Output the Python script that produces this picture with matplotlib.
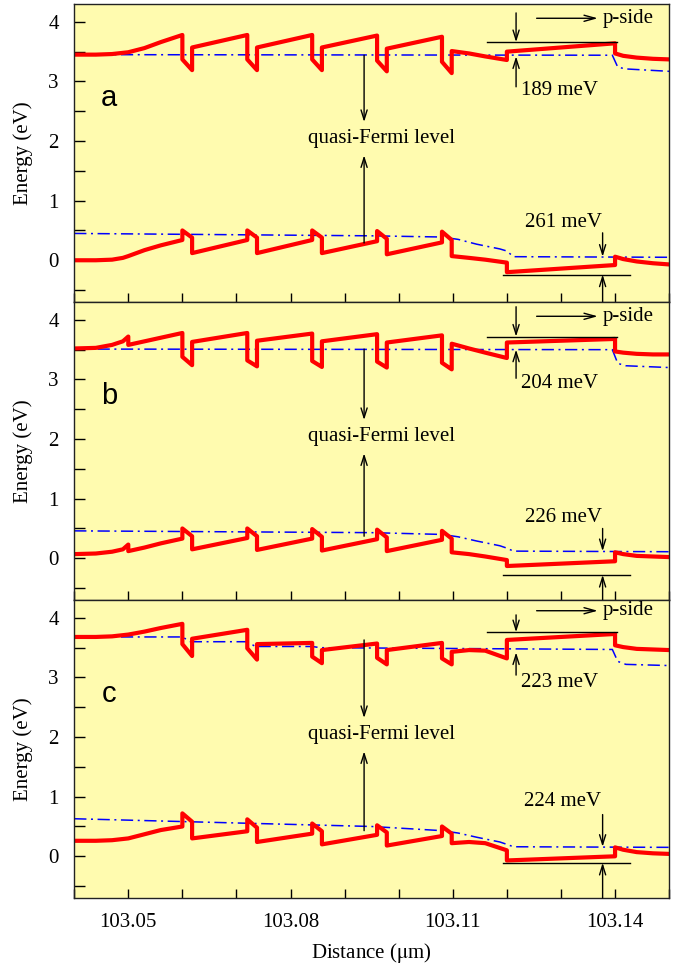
from matplotlib import pyplot as plt
from matplotlib.ticker import MultipleLocator, FixedLocator

# shared x knots (um) of the band edges: n-side, 5 wells, last barrier, EBL, p-side
x_band = [103.0400, 103.0440, 103.0470, 103.0490, 103.0500, 103.0500,
          103.0530, 103.0560, 103.0600, 103.0600, 103.0618, 103.0618,
          103.0720, 103.0720, 103.0738, 103.0738,
          103.0840, 103.0840, 103.0858, 103.0858,
          103.0960, 103.0960, 103.0978, 103.0978,
          103.1080, 103.1080, 103.1098, 103.1098,
          103.1130, 103.1160, 103.1200, 103.1200,
          103.1400, 103.1400, 103.1415, 103.1440, 103.1470, 103.1500]

ec_a = [3.45, 3.45, 3.46, 3.48, 3.49, 3.49,
        3.56, 3.66, 3.78, 3.37, 3.19, 3.57,
        3.78, 3.37, 3.19, 3.57,
        3.78, 3.37, 3.19, 3.57,
        3.77, 3.35, 3.17, 3.55,
        3.75, 3.33, 3.14, 3.51,
        3.47, 3.42, 3.36, 3.50,
        3.64, 3.47, 3.43, 3.40, 3.38, 3.37]
ev_a = [0.00, 0.00, 0.01, 0.04, 0.07, 0.07,
        0.17, 0.25, 0.34, 0.50, 0.38, 0.12,
        0.34, 0.50, 0.38, 0.12,
        0.34, 0.50, 0.38, 0.12,
        0.32, 0.49, 0.36, 0.10,
        0.30, 0.48, 0.34, 0.07,
        0.04, 0.01, -0.04, -0.20,
        -0.08, 0.06, 0.02, -0.02, -0.05, -0.07]

ec_b = [3.52, 3.53, 3.58, 3.64, 3.72, 3.58,
        3.64, 3.70, 3.78, 3.38, 3.24, 3.63,
        3.78, 3.32, 3.22, 3.65,
        3.77, 3.31, 3.21, 3.64,
        3.76, 3.30, 3.20, 3.62,
        3.74, 3.28, 3.17, 3.60,
        3.52, 3.45, 3.36, 3.62,
        3.68, 3.47, 3.45, 3.43, 3.42, 3.42]
ev_b = [0.07, 0.08, 0.11, 0.15, 0.23, 0.12,
        0.18, 0.25, 0.33, 0.50, 0.37, 0.15,
        0.34, 0.50, 0.37, 0.14,
        0.33, 0.49, 0.36, 0.13,
        0.32, 0.48, 0.35, 0.12,
        0.31, 0.46, 0.33, 0.10,
        0.07, 0.03, -0.03, -0.13,
        -0.05, 0.10, 0.07, 0.04, 0.03, 0.02]

ec_c = [3.68, 3.68, 3.69, 3.71, 3.72, 3.72,
        3.77, 3.83, 3.90, 3.56, 3.36, 3.65,
        3.80, 3.49, 3.30, 3.56,
        3.58, 3.35, 3.24, 3.46,
        3.57, 3.33, 3.22, 3.46,
        3.58, 3.32, 3.22, 3.43,
        3.46, 3.45, 3.32, 3.63,
        3.73, 3.54, 3.51, 3.48, 3.47, 3.46]
ev_c = [0.26, 0.26, 0.27, 0.29, 0.30, 0.30,
        0.37, 0.44, 0.50, 0.72, 0.58, 0.30,
        0.42, 0.62, 0.48, 0.24,
        0.38, 0.55, 0.42, 0.20,
        0.36, 0.52, 0.40, 0.18,
        0.34, 0.50, 0.38, 0.22,
        0.24, 0.22, 0.10, -0.07,
        0.00, 0.15, 0.11, 0.07, 0.05, 0.04]

# quasi-Fermi levels
x_fn_ab = [103.040, 103.1395, 103.1405, 103.1420, 103.150]
efn_a = [3.45, 3.44, 3.24, 3.21, 3.17]
efn_b = [3.51, 3.50, 3.27, 3.23, 3.20]
x_fn_c = [103.040, 103.060, 103.0615, 103.072, 103.0735, 103.084, 103.0855,
          103.1395, 103.1405, 103.1420, 103.150]
efn_c = [3.68, 3.68, 3.60, 3.60, 3.52, 3.52, 3.50, 3.47, 3.27, 3.22, 3.20]

x_fp = [103.040, 103.095, 103.108, 103.111, 103.1144, 103.1187, 103.1200,
        103.1212, 103.150]
efp_a = [0.45, 0.41, 0.39, 0.35, 0.27, 0.19, 0.155, 0.06, 0.05]
efp_b = [0.46, 0.43, 0.40, 0.36, 0.29, 0.21, 0.17, 0.12, 0.11]
efp_c = [0.63, 0.50, 0.43, 0.39, 0.32, 0.24, 0.20, 0.16, 0.15]

labels = ['a', 'b', 'c']
ebl_gaps = ['189 meV', '204 meV', '223 meV']
hole_gaps = ['261 meV', '226 meV', '224 meV']

# y positions (eV) of the annotation marks in each panel
pside_y = [4.06, 4.06, 4.12]
ebl_top = [3.66, 3.72, 3.76]
ebl_arrow_top = [4.15, 4.22, 4.05]
ebl_fn = [3.42, 3.50, 3.42]
ebl_arrow_bot = [2.91, 3.02, 3.04]
ebl_txt = [2.84, 2.94, 2.92]
hole_bot = [-0.24, -0.28, -0.11]
hole_fp = [0.06, 0.12, 0.16]
hole_arrow_top = [0.46, 0.50, 0.70]
hole_txt = [0.63, 0.68, 0.92]
qf_top = [3.44, 3.51, 3.63]
qf_bot = [0.29, 0.37, 0.43]

YEL = '#fffbaf'
serif = 'Liberation Serif'
plt.rcParams['font.family'] = serif
plt.rcParams['mathtext.fontset'] = 'stix'

fig, axes = plt.subplots(3, 1, sharex=True, figsize=(6.87, 9.68), dpi=100)
fig.subplots_adjust(left=0.108, right=0.974, bottom=0.0723, top=0.9959, hspace=0)

panels = [(ec_a, ev_a, x_fn_ab, efn_a, efp_a),
          (ec_b, ev_b, x_fn_ab, efn_b, efp_b),
          (ec_c, ev_c, x_fn_c, efn_c, efp_c)]

def arrow(ax, x, y0, y1):
    ax.annotate('', xy=(x, y1), xytext=(x, y0),
                arrowprops=dict(arrowstyle='->,head_length=0.7,head_width=0.22',
                                lw=1, color='k', shrinkA=0, shrinkB=0))

for i, ax in enumerate(axes):
    ec, ev, xfn, efn, efp = panels[i]
    ax.set_facecolor(YEL)
    ax.plot(x_fp, efp, color='b', lw=1.1, ls=(0, (8, 3, 1.3, 3)))
    ax.plot(xfn, efn, color='b', lw=1.1, ls=(0, (8, 3, 1.3, 3)))
    ax.plot(x_band, ec, color='r', lw=3, solid_joinstyle='round')
    ax.plot(x_band, ev, color='r', lw=3, solid_joinstyle='round')

    ax.set_xlim(103.04, 103.15)
    ax.set_ylim(-0.7, 4.3)
    ax.yaxis.set_major_locator(FixedLocator([0, 1, 2, 3, 4]))
    ax.yaxis.set_minor_locator(FixedLocator([-0.5, 0.5, 1.5, 2.5, 3.5]))
    ax.xaxis.set_major_locator(MultipleLocator(0.01))
    ax.tick_params(axis='y', which='both', direction='in', length=8, width=1,
                   labelsize=15, pad=11)
    ax.tick_params(axis='x', which='both', direction='in', length=6.5, width=1,
                   labelsize=15, pad=11)
    ax.set_ylabel('Energy (eV)', fontsize=15, labelpad=11)
    for s in ax.spines.values():
        s.set_linewidth(1)
        s.set_color('#222222')

    ax.text(103.0465, 2.72, labels[i], fontsize=21, family='Liberation Sans',
            ha='center', va='center')

    # quasi-Fermi level arrows
    ax.text(103.0969, 2.05, 'quasi-Fermi level', fontsize=15, ha='center', va='center')
    arrow(ax, 103.0936, qf_top[i], 2.32)
    arrow(ax, 103.0936, qf_bot[i], 1.76)

    # p-side arrow
    ax.annotate('', xy=(103.1368, pside_y[i]), xytext=(103.1255, pside_y[i]),
                arrowprops=dict(arrowstyle='->,head_length=0.8,head_width=0.22',
                                lw=1, color='k', shrinkA=0, shrinkB=0))
    ax.text(103.1378, pside_y[i], 'p-side', fontsize=15, ha='left', va='center')

    # electron barrier mark
    ax.plot([103.1164, 103.1404], [ebl_top[i]] * 2, color='k', lw=1)
    arrow(ax, 103.1217, ebl_arrow_top[i], ebl_top[i])
    arrow(ax, 103.1217, ebl_arrow_bot[i], ebl_fn[i])
    ax.text(103.1227, ebl_txt[i], ebl_gaps[i], fontsize=15, ha='left', va='center')

    # hole barrier mark
    ax.plot([103.1193, 103.1427], [hole_bot[i]] * 2, color='k', lw=1)
    arrow(ax, 103.1377, hole_arrow_top[i], hole_fp[i])
    arrow(ax, 103.1377, -0.7, hole_bot[i])
    ax.text(103.1375, hole_txt[i], hole_gaps[i], fontsize=15, ha='right',
            va='center')

axes[-1].xaxis.set_major_formatter(plt.FuncFormatter(
    lambda v, p: '%.2f' % v if round(v * 100) % 3 == 0 else ''))
axes[-1].set_xlabel('Distance ($\\mathrm{\\mu}$m)', fontsize=15, labelpad=6)

fig.savefig('out.png', dpi=100)
